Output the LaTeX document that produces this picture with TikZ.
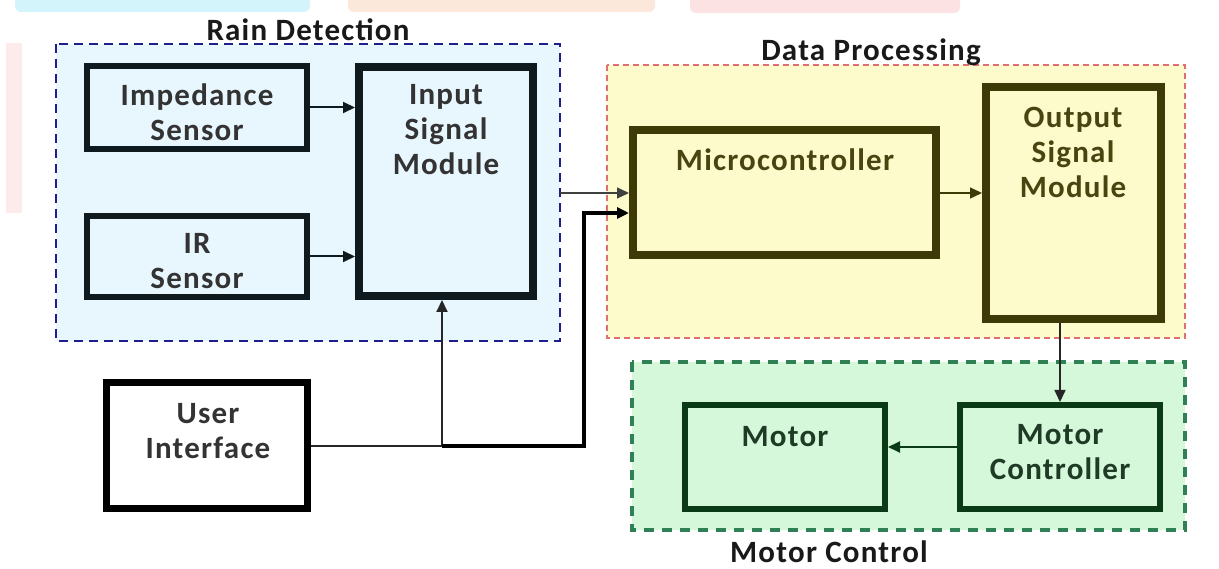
\documentclass[tikz,border=0pt]{standalone}
\usepackage{fontspec}
\setmainfont{Carlito}[LetterSpace=4]
\usetikzlibrary{arrows.meta}
\definecolor{rainfill}{HTML}{E8F7FD}
\definecolor{rainedge}{HTML}{1E1E8C}
\definecolor{datafill}{HTML}{FDFBCB}
\definecolor{dataedge}{HTML}{E07070}
\definecolor{motfill}{HTML}{D5F7DA}
\definecolor{motedge}{HTML}{2F8055}
\definecolor{rainbox}{HTML}{0F1A1F}
\definecolor{databox}{HTML}{3E3A08}
\definecolor{motbox}{HTML}{0B3A17}
\definecolor{raintext}{HTML}{333333}
\definecolor{datatext}{HTML}{4A4510}
\definecolor{mottext}{HTML}{1F3A25}
\definecolor{blobcyan}{HTML}{D4F4FC}
\definecolor{blobpeach}{HTML}{FCE8DA}
\definecolor{blobpink}{HTML}{FCE2E2}
\tikzset{
  boxtext/.style={font=\fontsize{31}{35}\selectfont\bfseries, align=center, inner sep=0pt},
  grouptitle/.style={font=\fontsize{31}{35}\selectfont\bfseries, text=black!90, inner sep=0pt},
  rainblk/.style={draw=rainbox, line width=6pt, fill=rainfill, inner sep=0pt},
  datablk/.style={draw=databox, line width=8pt, fill=datafill, inner sep=0pt},
  motblk/.style={draw=motbox, line width=6pt, fill=motfill, inner sep=0pt},
  uiblk/.style={draw=black, line width=7pt, fill=white, inner sep=0pt},
  tip/.style={-{Triangle[length=12pt,width=11pt]}},
}
\begin{document}
\begin{tikzpicture}[x=1pt,y=-1pt]
\useasboundingbox (0,0) rectangle (1219,569);
\fill[white] (0,0) rectangle (1219,569);
% page artifacts
\fill[blobcyan, rounded corners=6pt] (15,-10) rectangle (310,12);
\fill[blobpeach, rounded corners=6pt] (348,-10) rectangle (655,12);
\fill[blobpink, rounded corners=6pt] (690,-10) rectangle (960,13);
\fill[blobpink!70] (6,43) rectangle (22,213);
% groups
\draw[rainedge, fill=rainfill, line width=2.5pt, dash pattern=on 9pt off 6pt] (56,44) rectangle (560,341);
\draw[dataedge, fill=datafill, line width=1.2pt, dash pattern=on 6pt off 4pt] (607,65) rectangle (1185,338);
\draw[motedge, fill=motfill, line width=3.5pt, dash pattern=on 10pt off 8pt] (632,362) rectangle (1185,530);
\node[grouptitle] (tRain) at (308,30) {Rain Detection};
\node[grouptitle] (tData) at (871,52) {Data Processing};
\node[grouptitle] (tMot) at (829,552) {Motor Control};
% boxes
\node[rainblk, minimum width=220pt, minimum height=83pt] (imp) at (197,107.5) {};
\node[rainblk, minimum width=220pt, minimum height=81pt] (ir) at (197,256.5) {};
\node[rainblk, line width=8pt, minimum width=174pt, minimum height=229pt] (inp) at (446,181.5) {};
\node[uiblk, minimum width=201pt, minimum height=125pt] (ui) at (206.5,445.5) {};
\node[datablk, minimum width=303pt, minimum height=125pt] (micro) at (784.5,192.5) {};
\node[datablk, minimum width=175pt, minimum height=232pt] (out) at (1073.5,203) {};
\node[motblk, minimum width=200pt, minimum height=104pt] (motor) at (785,457) {};
\node[motblk, minimum width=200pt, minimum height=104pt] (mc) at (1060,457) {};
% texts
\node[boxtext, text=raintext] (impT) at (197,112) {Impedance\\Sensor};
\node[boxtext, text=raintext] (irT) at (197,261) {IR\\Sensor};
\node[boxtext, text=raintext] (inpT) at (446,130) {Input\\Signal\\Module};
\node[boxtext, text=black!80] (uiT) at (208,431) {User\\Interface};
\node[boxtext, text=datatext] (microT) at (785,160) {Microcontroller};
\node[boxtext, text=datatext] (outT) at (1073,152) {Output\\Signal\\Module};
\node[boxtext, text=mottext] (motorT) at (785,437) {Motor};
\node[boxtext, text=mottext] (mcT) at (1060,452) {Motor\\Controller};
% connectors
\draw[tip, rainbox, line width=2pt] (imp.east) -- (imp.east -| inp.west);
\draw[tip, rainbox, line width=2pt] (ir.east) -- (ir.east -| inp.west);
\coordinate (rainE) at (560,193);
\draw[tip, black!75, line width=1.3pt] (rainE) -- (rainE -| micro.west);
\coordinate (j) at (442,446);
\coordinate (turn) at (584,213);
\draw[black!85, line width=2pt] (ui.east |- j) -- (j);
\draw[tip, black!85, line width=2pt] (j) -- (j |- inp.south);
\draw[tip, black, line width=3.5pt] (j) -- (j -| turn) -- (turn) -- (turn -| micro.west);
\draw[tip, databox, line width=1.3pt] (micro.east |- rainE) -- (out.west |- rainE);
\draw[tip, black!85, line width=1.5pt] (mc.north |- out.south) -- (mc.north);
\draw[tip, motbox, line width=2pt] ([yshift=10pt]mc.west) -- ([yshift=10pt]motor.east);
\end{tikzpicture}
\end{document}
